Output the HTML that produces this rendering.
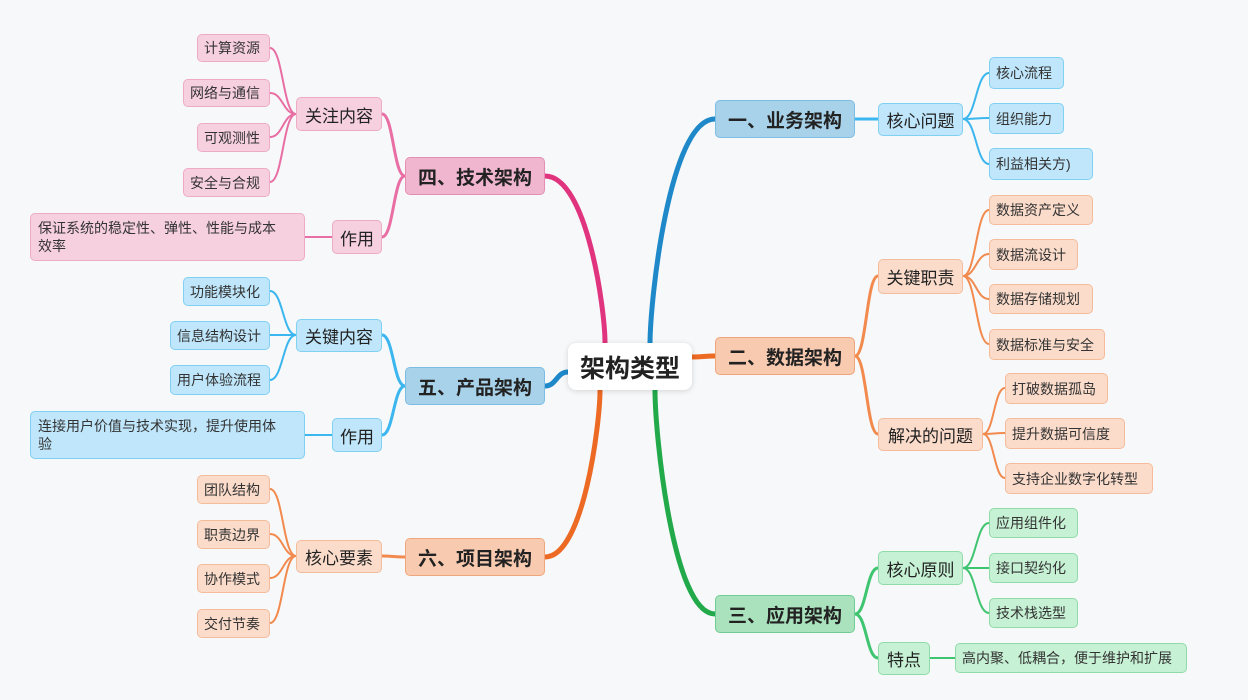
<!DOCTYPE html>
<html><head><meta charset="utf-8"><style>
body{margin:0;width:1248px;height:700px;background:#f6f8fa;position:relative;overflow:hidden;font-family:"Liberation Sans","Noto Sans CJK SC",sans-serif;color:#222}
.b{position:absolute;box-sizing:border-box;border-radius:5px;border:1.5px solid;display:flex;align-items:center;padding:0 6px;white-space:nowrap}
.L1{font-weight:bold;font-size:19px;justify-content:center}
.L2{font-size:17px;justify-content:center}
.lf{font-size:14px;color:#333}
.bl1{background:#a8d2ea;border-color:#7cbde3}.bl2{background:#bfe6fa;border-color:#7fd0f3}
.or1{background:#f8cbb0;border-color:#f0a67c}.or2{background:#fbdccb;border-color:#f5bb9a}
.gr1{background:#a9e2bd;border-color:#6fcc92}.gr2{background:#c6f1d4;border-color:#8fdca8}
.pk1{background:#f0b6cf;border-color:#e58db2}.pk2{background:#f7d0e0;border-color:#eeaac7}
svg{position:absolute;left:0;top:0}
.long{white-space:normal;align-items:flex-start;padding:5px 22px 0 7px;line-height:18px}
</style></head><body>
<svg width="1248" height="700" id="s"></svg>
<div class="b" style="left:568px;top:343px;width:124px;height:47px;background:#fff;border-color:#fff;border-radius:8px;box-shadow:0 1px 6px rgba(0,0,0,.15);font-size:25px;font-weight:bold;justify-content:center">架构类型</div>

<div class="b L1 bl1" style="left:715px;top:100px;width:140px;height:38px">一、业务架构</div>
<div class="b L2 bl2" style="left:878px;top:103px;width:85px;height:33px">核心问题</div>
<div class="b lf bl2" style="left:989px;top:57px;width:75px;height:32px">核心流程</div>
<div class="b lf bl2" style="left:989px;top:103px;width:75px;height:31px">组织能力</div>
<div class="b lf bl2" style="left:989px;top:148px;width:104px;height:32px">利益相关方)</div>

<div class="b L1 or1" style="left:715px;top:337px;width:140px;height:38px">二、数据架构</div>
<div class="b L2 or2" style="left:878px;top:259px;width:85px;height:35px">关键职责</div>
<div class="b lf or2" style="left:989px;top:195px;width:104px;height:30px">数据资产定义</div>
<div class="b lf or2" style="left:989px;top:239px;width:89px;height:31px">数据流设计</div>
<div class="b lf or2" style="left:989px;top:284px;width:104px;height:30px">数据存储规划</div>
<div class="b lf or2" style="left:989px;top:329px;width:116px;height:31px">数据标准与安全</div>
<div class="b L2 or2" style="left:878px;top:418px;width:105px;height:33px">解决的问题</div>
<div class="b lf or2" style="left:1005px;top:373px;width:103px;height:31px">打破数据孤岛</div>
<div class="b lf or2" style="left:1005px;top:418px;width:120px;height:31px">提升数据可信度</div>
<div class="b lf or2" style="left:1005px;top:463px;width:148px;height:31px">支持企业数字化转型</div>

<div class="b L1 gr1" style="left:715px;top:595px;width:140px;height:38px">三、应用架构</div>
<div class="b L2 gr2" style="left:878px;top:551px;width:85px;height:34px">核心原则</div>
<div class="b lf gr2" style="left:989px;top:508px;width:89px;height:30px">应用组件化</div>
<div class="b lf gr2" style="left:989px;top:553px;width:89px;height:30px">接口契约化</div>
<div class="b lf gr2" style="left:989px;top:598px;width:89px;height:30px">技术栈选型</div>
<div class="b L2 gr2" style="left:878px;top:642px;width:52px;height:33px">特点</div>
<div class="b lf gr2" style="left:955px;top:643px;width:232px;height:30px">高内聚、低耦合，便于维护和扩展</div>

<div class="b L1 pk1" style="left:405px;top:157px;width:140px;height:38px">四、技术架构</div>
<div class="b L2 pk2" style="left:296px;top:97px;width:86px;height:34px">关注内容</div>
<div class="b lf pk2" style="left:197px;top:34px;width:73px;height:28px">计算资源</div>
<div class="b lf pk2" style="left:183px;top:79px;width:87px;height:28px">网络与通信</div>
<div class="b lf pk2" style="left:197px;top:123px;width:73px;height:29px">可观测性</div>
<div class="b lf pk2" style="left:183px;top:168px;width:87px;height:29px">安全与合规</div>
<div class="b L2 pk2" style="left:332px;top:220px;width:50px;height:34px">作用</div>
<div class="b lf pk2 long" style="left:30px;top:213px;width:275px;height:48px">保证系统的稳定性、弹性、性能与成本效率</div>

<div class="b L1 bl1" style="left:405px;top:367px;width:140px;height:38px">五、产品架构</div>
<div class="b L2 bl2" style="left:296px;top:319px;width:86px;height:33px">关键内容</div>
<div class="b lf bl2" style="left:183px;top:277px;width:87px;height:29px">功能模块化</div>
<div class="b lf bl2" style="left:170px;top:321px;width:100px;height:29px">信息结构设计</div>
<div class="b lf bl2" style="left:170px;top:365px;width:100px;height:30px">用户体验流程</div>
<div class="b L2 bl2" style="left:332px;top:418px;width:50px;height:34px">作用</div>
<div class="b lf bl2 long" style="left:30px;top:411px;width:275px;height:48px">连接用户价值与技术实现，提升使用体验</div>

<div class="b L1 or1" style="left:405px;top:538px;width:140px;height:38px">六、项目架构</div>
<div class="b L2 or2" style="left:296px;top:540px;width:86px;height:33px">核心要素</div>
<div class="b lf or2" style="left:197px;top:475px;width:73px;height:29px">团队结构</div>
<div class="b lf or2" style="left:197px;top:520px;width:73px;height:29px">职责边界</div>
<div class="b lf or2" style="left:197px;top:564px;width:73px;height:29px">协作模式</div>
<div class="b lf or2" style="left:197px;top:609px;width:73px;height:29px">交付节奏</div>
<script>
var s=document.getElementById('s'),h='';
function c(x1,y1,x2,y2,col,w){var m=(x1+x2)/2;h+='<path d="M'+x1+' '+y1+' C'+m+' '+y1+','+m+' '+y2+','+x2+' '+y2+'" fill="none" stroke="'+col+'" stroke-width="'+w+'" stroke-linecap="round"/>';}
function v(x1,y1,x2,y2,col,w){h+='<path d="M'+x1+' '+y1+' C'+x1+' '+(y1+(y2-y1)*0.2)+','+(x1+(x2-x1)*0.3)+' '+y2+','+x2+' '+y2+'" fill="none" stroke="'+col+'" stroke-width="'+w+'" stroke-linecap="round"/>';}
v(650,345,715,119,'#1e88c8',5);
c(692,357,715,356,'#ec6a24',5);
v(655,390,715,614,'#22a94a',5);
v(605,343,545,176,'#e0357e',5);
c(568,372,545,386,'#1e88c8',5);
v(600,390,545,557,'#ec6a24',5);
var B='#3cb6ee',O='#f28a4e',G='#3fc470',P='#e86ea3';
c(855,119,878,119,B,3);
c(855,356,878,276,O,3);c(855,356,878,434,O,3);
c(855,614,878,568,G,3);c(855,614,878,658,G,3);
[73,118,164].forEach(y=>c(963,119,989,y,B,2));
[210,254,299,344].forEach(y=>c(963,276,989,y,O,2));
[388,433,478].forEach(y=>c(983,434,1005,y,O,2));
[523,568,613].forEach(y=>c(963,568,989,y,G,2));
c(930,658,955,658,G,2);
c(405,176,382,114,P,3);c(405,176,382,237,P,3);
c(405,386,382,335,B,3);c(405,386,382,435,B,3);
c(405,557,382,556,O,3);
[48,93,137,182].forEach(y=>c(296,114,270,y,P,2));
c(332,237,305,237,P,2);
[291,335,380].forEach(y=>c(296,335,270,y,B,2));
c(332,435,305,435,B,2);
[489,534,578,623].forEach(y=>c(296,556,270,y,O,2));
s.innerHTML=h;
</script>
</body></html>
